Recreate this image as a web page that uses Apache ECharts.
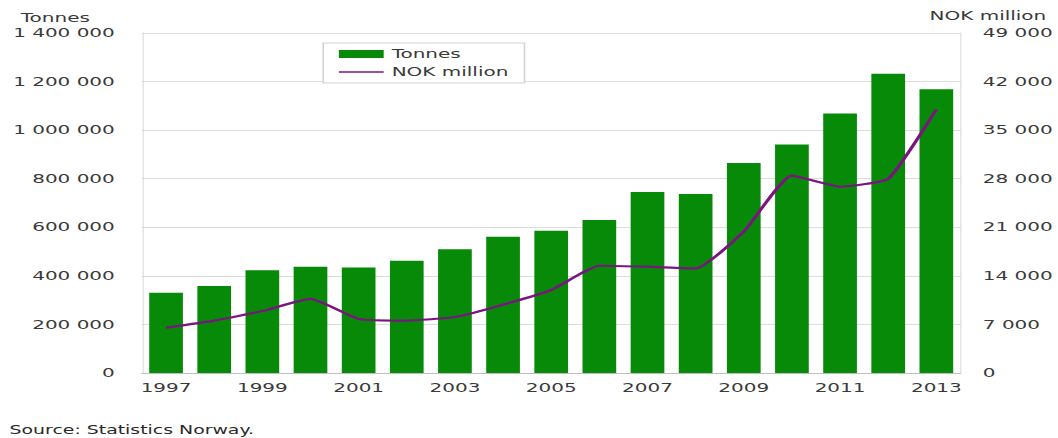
<!DOCTYPE html>
<html>
<head>
<meta charset="utf-8">
<script src="https://cdn.jsdelivr.net/npm/echarts@6/dist/echarts.min.js"></script>
<style>
  html, body { margin: 0; padding: 0; background: #ffffff; overflow: hidden; }
  #wrap { width: 1058px; height: 438px; overflow: hidden; }
  /* the chart is laid out narrow and widened horizontally */
  #chart { width: 661.25px; height: 438px; transform: scaleX(1.6); transform-origin: 0 0; }
</style>
</head>
<body>
<div id="wrap"><div id="chart"></div></div>
<script>
const years = ['1997', '1998', '1999', '2000', '2001', '2002', '2003', '2004', '2005',
  '2006', '2007', '2008', '2009', '2010', '2011', '2012', '2013'];
const tonnes = [330000, 358000, 423000, 438000, 434000, 462000, 510000, 561000, 586000,
  630000, 745000, 737000, 865000, 941000, 1069000, 1232000, 1168000];
const nokMillion = [6530, 7550, 8930, 10670, 7780, 7540, 8070, 9850, 11960,
  15460, 15320, 15080, 20370, 28440, 26840, 28000, 38000];
const leftTicks = { min: 0, max: 1400000, step: 200000 };
const rightTicks = { min: 0, max: 49000, step: 7000 };

const FONT = '"DejaVu Sans", Verdana, sans-serif';
const TEXT = '#3a3a3a';
const SX = 1.6;
const GREEN = '#078a07';
const PURPLE = '#7a1580';

function spaced(v) {
  return String(v).replace(/\B(?=(\d{3})+(?!\d))/g, ' ');
}

const chart = echarts.init(document.getElementById('chart'), null, { renderer: 'svg' });

chart.setOption({
  animation: false,
  backgroundColor: '#ffffff',
  textStyle: { fontFamily: FONT },
  title: [
    { text: 'Tonnes', left: 8, top: 6,
      textStyle: { fontFamily: FONT, fontSize: 12.5, fontWeight: 'normal', color: TEXT } },
    { text: 'NOK million', right: 2, top: 4,
      textStyle: { fontFamily: FONT, fontSize: 12.5, fontWeight: 'normal', color: TEXT } },
    { text: 'Source: Statistics Norway.', left: 1, top: 419,
      textStyle: { fontFamily: FONT, fontSize: 11.8, fontWeight: 'normal', color: '#2a2a2a' } }
  ],
  legend: {
    left: 202, top: 43,
    orient: 'vertical',
    padding: [3, 10, 3, 9],
    itemGap: 2,
    itemWidth: 28,
    itemHeight: 8,
    itemTextGap: 2,
    borderColor: '#d4d4d4',
    borderWidth: 1,
    backgroundColor: '#ffffff',
    textStyle: { fontFamily: FONT, fontSize: 12.5, color: TEXT, lineHeight: 16 },
    data: [
      { name: 'Tonnes', icon: 'rect' },
      { name: 'NOK million', itemStyle: { opacity: 0 }, lineStyle: { color: PURPLE, width: 1.6 } }
    ]
  },
  grid: { left: 88.75, right: 57.5, top: 33, bottom: 65 },
  xAxis: {
    type: 'category',
    data: years,
    axisLine: { lineStyle: { color: '#bfbfbf', width: 1 } },
    axisTick: { show: false },
    axisLabel: { interval: 1, margin: 8, fontFamily: FONT, fontSize: 12.5, color: TEXT }
  },
  yAxis: [
    {
      type: 'value',
      min: leftTicks.min, max: leftTicks.max, interval: leftTicks.step,
      axisLine: { show: true, lineStyle: { color: '#cfcfcf', width: 1 / SX } },
      axisTick: { show: false },
      splitLine: { lineStyle: { color: '#dcdcdc', width: 1 } },
      axisLabel: { margin: 17, fontFamily: FONT, fontSize: 12.5, color: TEXT, formatter: spaced }
    },
    {
      type: 'value',
      min: rightTicks.min, max: rightTicks.max, interval: rightTicks.step,
      position: 'right',
      axisLine: { show: true, lineStyle: { color: '#cfcfcf', width: 1 / SX } },
      axisTick: { show: false },
      splitLine: { show: false },
      axisLabel: { margin: 14, fontFamily: FONT, fontSize: 12.5, color: TEXT, formatter: spaced }
    }
  ],
  series: [
    {
      name: 'Tonnes',
      type: 'bar',
      yAxisIndex: 0,
      data: tonnes,
      barCategoryGap: '30%',
      itemStyle: { color: GREEN }
    },
    {
      name: 'NOK million',
      type: 'line',
      yAxisIndex: 1,
      data: nokMillion,
      symbol: 'none',
      smooth: 0.15,
      lineStyle: { color: PURPLE, width: 2.2 },
      itemStyle: { color: PURPLE }
    }
  ]
});
</script>
</body>
</html>
